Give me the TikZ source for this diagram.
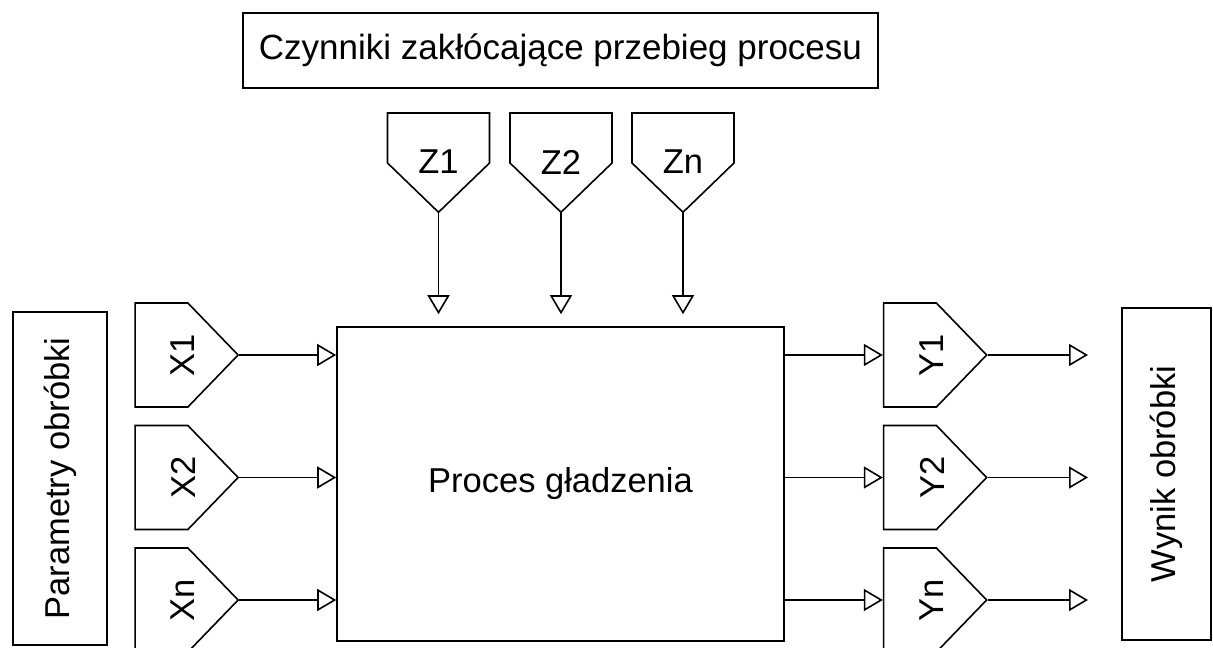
\documentclass[tikz,border=0pt]{standalone}
\usepackage{fontspec}
\setmainfont{Liberation Sans}
\usetikzlibrary{positioning,arrows.meta,shapes.symbols}

\begin{document}
\begin{tikzpicture}[
  x=0.5pt, y=-0.5pt, line width=0.8pt,
  font=\fontsize{17.25}{20}\selectfont,
  box/.style={draw, rectangle, inner sep=0pt},
  tag/.style={draw, signal, signal pointer angle=92, inner sep=0pt},
  ztag/.style={tag, signal to=south, minimum width=51pt, minimum height=25pt},
  xtag/.style={tag, signal to=east, minimum width=51.5pt, minimum height=52pt},
  arrow/.style={-{Triangle[open, length=9.5pt, width=11pt]}}
]
\useasboundingbox (0,0) rectangle (1213,647);

% Row 1: disturbances
\node[box, minimum width=317.5pt, minimum height=37.5pt, font=\fontsize{17.5}{20}\selectfont] (title) at (560.5,50.5) {Czynniki zakłócające przebieg procesu};
\node[ztag] (z1) at (438.5,138) {};
\node[ztag] (z2) at (561,138) {};
\node[ztag] (zn) at (683,138) {};
\node at (438.5,162) {Z1};
\node at (561,162) {Z2};
\node at (683,162) {Zn};

% Row 2: process with inputs and outputs
\node[box, minimum width=223.5pt, minimum height=157pt] (proc) at (560.5,484) {Proces gładzenia};
\node[box, rotate=90, minimum width=166.5pt, minimum height=47pt] (param) at (60,478.5) {Parametry obróbki};
\node[box, rotate=90, minimum width=166pt, minimum height=44.5pt] (wynik) at (1166.5,474) {Wynik obróbki};

\node[xtag] (x1) at (161.5,355) {};
\node[xtag] (x2) at (161.5,477.5) {};
\node[xtag] (xn) at (161.5,600) {};
\node[rotate=90] at (183,355) {X1};
\node[rotate=90] at (183,477.5) {X2};
\node[rotate=90] at (183,600) {Xn};

\node[xtag] (y1) at (910,355) {};
\node[xtag] (y2) at (910,477.5) {};
\node[xtag] (yn) at (910,600) {};
\node[rotate=90] at (932,355) {Y1};
\node[rotate=90] at (932,477.5) {Y2};
\node[rotate=90] at (932,600) {Yn};

\coordinate (o1) at (1088,355);
\coordinate (o2) at (1088,477.5);
\coordinate (on) at (1088,600);

\draw[arrow, shorten >=6pt] (z1.south) -- (z1.south |- proc.north);
\draw[arrow, shorten >=6pt] (z2.south) -- (z2.south |- proc.north);
\draw[arrow, shorten >=6pt] (zn.south) -- (zn.south |- proc.north);
\draw[arrow] (x1.east) -- (x1 -| proc.west);
\draw[arrow] (x2.east) -- (x2 -| proc.west);
\draw[arrow] (xn.east) -- (xn -| proc.west);
\draw[arrow] (y1 -| proc.east) -- (y1.west);
\draw[arrow] (y2 -| proc.east) -- (y2.west);
\draw[arrow] (yn -| proc.east) -- (yn.west);
\draw[arrow] (y1.east) -- (o1);
\draw[arrow] (y2.east) -- (o2);
\draw[arrow] (yn.east) -- (on);
\end{tikzpicture}
\end{document}
